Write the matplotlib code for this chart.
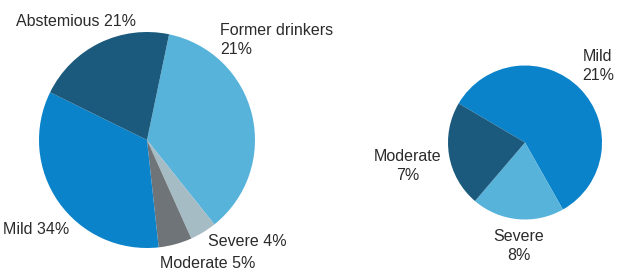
import matplotlib.pyplot as plt

plt.rcParams['font.family'] = ['Liberation Sans', 'DejaVu Sans']

# left pie: drinking status (slice sizes, clockwise from Former drinkers)
left_labels = ["Former drinkers", "Severe", "Moderate", "Mild", "Abstemious"]
left_sizes = [36, 4, 5, 34, 21]
left_text = ["Former drinkers\n21%", "Severe 4%", "Moderate 5%", "Mild 34%", "Abstemious 21%"]
left_colors = ["#58b3db", "#a6bcc5", "#6f7478", "#0b83ca", "#1b5a7c"]

# right pie: current drinkers, clockwise from Mild
right_labels = ["Mild", "Severe", "Moderate"]
right_sizes = [21, 7, 8]
right_text = ["Mild\n21%", "Severe\n8%", "Moderate\n7%"]
right_colors = ["#0b83ca", "#58b3db", "#1b5a7c"]

W, H = 624, 274
fig = plt.figure(figsize=(W / 100, H / 100), dpi=100)
ax = fig.add_axes([0, 0, 1, 1])

ax.pie(left_sizes, colors=left_colors, center=(147, H - 140), radius=108,
       startangle=78.2, counterclock=False, frame=True)
ax.pie(right_sizes, colors=right_colors, center=(525, H - 142.5), radius=77,
       startangle=149.5, counterclock=False, frame=True)
ax.set_xlim(0, W)
ax.set_ylim(0, H)
ax.set_aspect('equal')
ax.axis('off')

txt = dict(color="#2b2b2b", fontsize=11.5, linespacing=1.3)
# left labels (pixel positions from the top-left)
left_pos = [(220, 40, 'left'), (208, 241, 'left'), (160, 264, 'left'),
            (3, 229, 'left'), (16, 22, 'left')]
for t, (x, y, ha) in zip(left_text, left_pos):
    ax.text(x, H - y, t, ha=ha, va='center', **txt)

right_pos = [(598, 66, 'center'), (519, 246, 'center'), (408, 166, 'center')]
for t, (x, y, ha) in zip(right_text, right_pos):
    ax.text(x, H - y, t, ha=ha, va='center', multialignment='center', **txt)

fig.savefig("out.png", dpi=100)
